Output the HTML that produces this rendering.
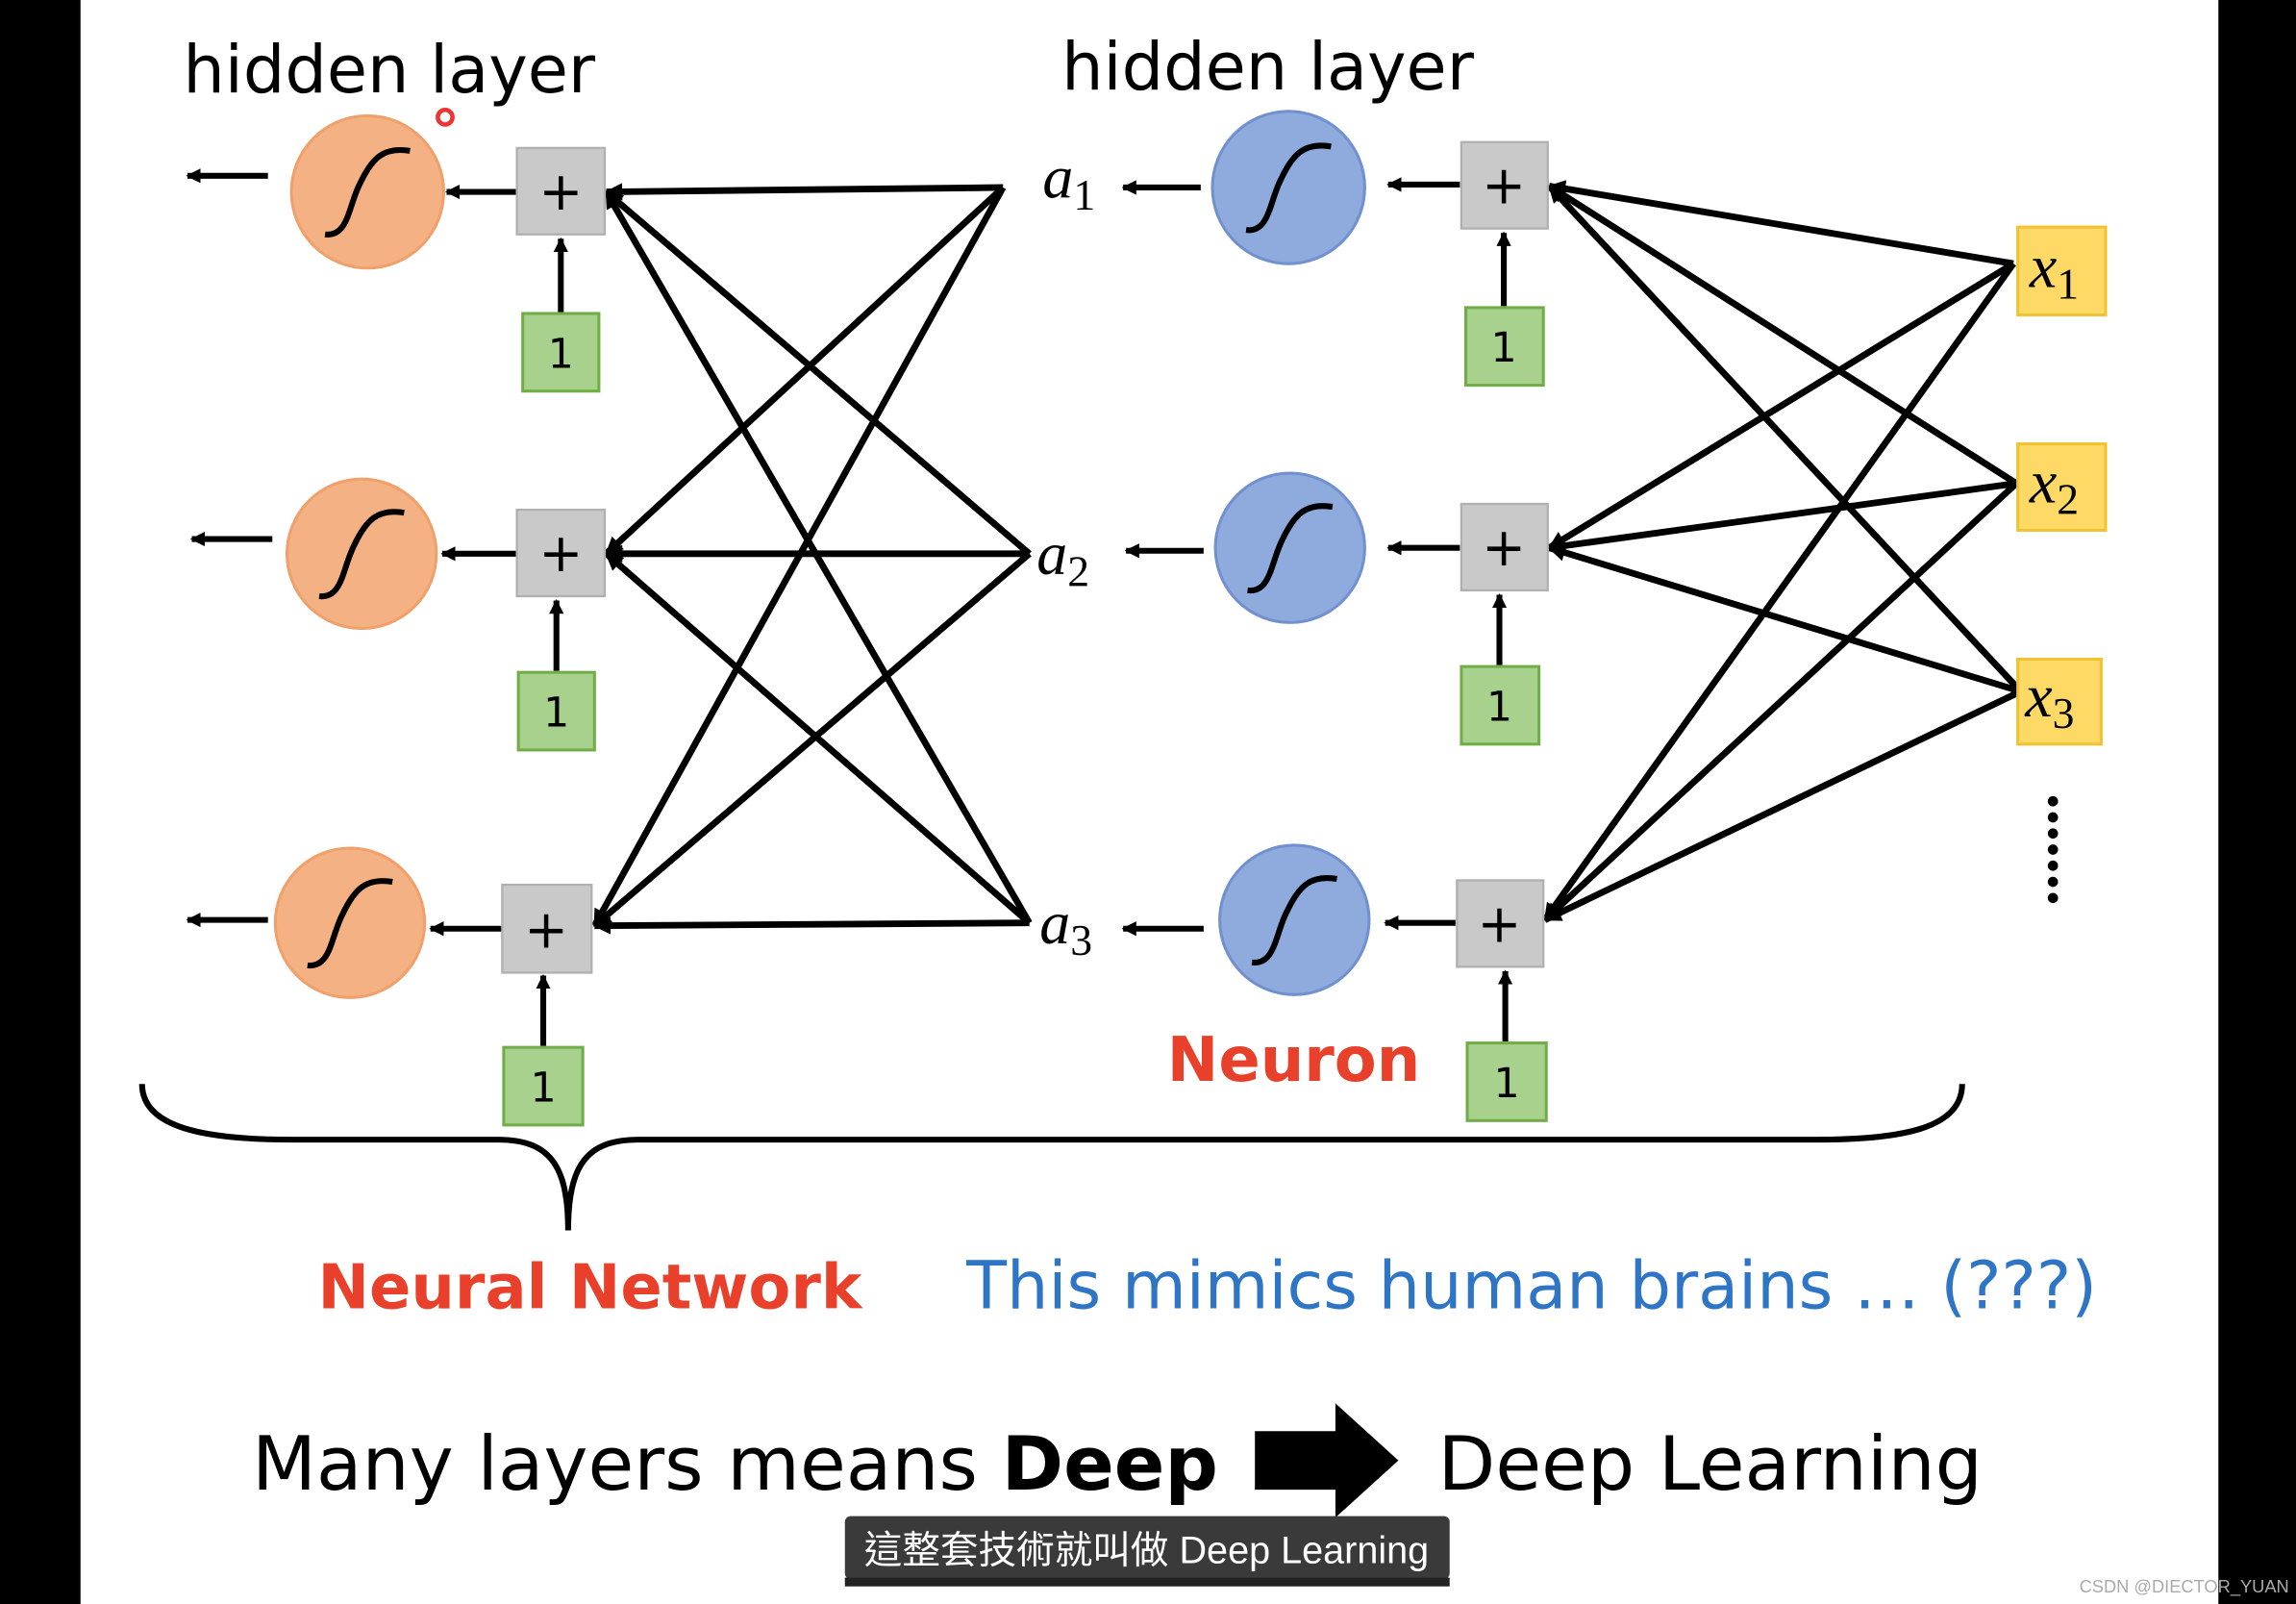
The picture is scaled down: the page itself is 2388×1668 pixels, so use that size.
<!DOCTYPE html>
<html><head><meta charset="utf-8"><style>
html,body{margin:0;padding:0;background:#000;}
svg{display:block;}
</style></head><body>
<svg width="2388" height="1668" viewBox="0 0 1568 1095" preserveAspectRatio="none" xmlns="http://www.w3.org/2000/svg">
<defs>
<marker id="ah" markerWidth="10" markerHeight="10" refX="9" refY="5" orient="auto" markerUnits="userSpaceOnUse">
<path d="M0,0 L10,5 L0,10 z" fill="#000"/></marker>
<marker id="ah3" markerWidth="12" markerHeight="12" refX="11" refY="6" orient="auto" markerUnits="userSpaceOnUse">
<path d="M0,0 L12,6 L0,12 z" fill="#000"/></marker>
</defs>
<rect x="0" y="0" width="1568" height="1095" fill="#000"/>
<rect x="55" y="0" width="1460" height="1095" fill="#fff"/>

<g font-family="'DejaVu Sans','Liberation Sans',sans-serif" fill="#000">
<text x="125" y="63" font-size="45">hidden layer</text>
<text x="725" y="61" font-size="45">hidden layer</text>
</g>
<circle cx="304" cy="80" r="5" fill="none" stroke="#e33" stroke-width="3"/>

<g stroke="#000" stroke-width="4.5" fill="none" marker-end="url(#ah3)">
<line x1="685" y1="128" x2="414" y2="131"/>
<line x1="685" y1="128" x2="414" y2="378"/>
<line x1="685" y1="128" x2="406" y2="632"/>
<line x1="703" y1="378" x2="414" y2="131"/>
<line x1="703" y1="378" x2="414" y2="378"/>
<line x1="703" y1="378" x2="406" y2="632"/>
<line x1="703" y1="630" x2="414" y2="131"/>
<line x1="703" y1="630" x2="414" y2="378"/>
<line x1="703" y1="630" x2="406" y2="632"/>
<line x1="1375" y1="180" x2="1058" y2="127"/>
<line x1="1375" y1="180" x2="1058" y2="374"/>
<line x1="1375" y1="180" x2="1055" y2="628"/>
<line x1="1377" y1="330" x2="1058" y2="127"/>
<line x1="1377" y1="330" x2="1058" y2="374"/>
<line x1="1377" y1="330" x2="1055" y2="628"/>
<line x1="1380" y1="472" x2="1058" y2="127"/>
<line x1="1380" y1="472" x2="1058" y2="374"/>
<line x1="1380" y1="472" x2="1055" y2="628"/>
</g>

<g stroke="#000" stroke-width="4" marker-end="url(#ah)">
<line x1="183" y1="120" x2="128" y2="120"/>
<line x1="186" y1="368" x2="131" y2="368"/>
<line x1="183" y1="628" x2="128" y2="628"/>
<line x1="353" y1="131" x2="305" y2="131"/>
<line x1="353" y1="378" x2="302" y2="378"/>
<line x1="343" y1="634" x2="294" y2="634"/>
<line x1="383" y1="213" x2="383" y2="163"/>
<line x1="380" y1="458" x2="380" y2="410"/>
<line x1="371" y1="714" x2="371" y2="666"/>
<line x1="820" y1="128" x2="767" y2="128"/>
<line x1="822" y1="376" x2="769" y2="376"/>
<line x1="822" y1="634" x2="767" y2="634"/>
<line x1="997" y1="126" x2="948" y2="126"/>
<line x1="997" y1="374" x2="948" y2="374"/>
<line x1="994" y1="630" x2="946" y2="630"/>
<line x1="1027" y1="209" x2="1027" y2="159"/>
<line x1="1024" y1="454" x2="1024" y2="406"/>
<line x1="1028" y1="711" x2="1028" y2="663"/>
</g>

<g fill="#f4b183" stroke="#f0a06a" stroke-width="2">
<circle cx="251" cy="131" r="52"/>
<circle cx="247" cy="378" r="51"/>
<circle cx="239" cy="630" r="51"/>
</g>
<g fill="#8faadc" stroke="#7190cf" stroke-width="2">
<circle cx="880" cy="128" r="52"/>
<circle cx="881" cy="374" r="51"/>
<circle cx="884" cy="628" r="51"/>
</g>
<g fill="none" stroke="#000" stroke-width="4">
<path d="M222,160 C238,162 238,140 246,125 C254,108 262,100 280,103" />
<path d="M218,407 C234,409 234,387 242,372 C250,355 258,347 276,350" />
<path d="M210,659 C226,661 226,639 234,624 C242,607 250,599 268,602" />
<path d="M851,157 C867,159 867,137 875,122 C883,105 891,97 909,100" />
<path d="M852,403 C868,405 868,383 876,368 C884,351 892,343 910,346" />
<path d="M855,657 C871,659 871,637 879,622 C887,605 895,597 913,600" />
</g>

<g fill="#c9c9c9" stroke="#b0b0b0" stroke-width="1.5">
<rect x="353" y="101" width="60" height="59"/>
<rect x="353" y="348" width="60" height="59"/>
<rect x="343" y="604" width="61" height="60"/>
<rect x="998" y="97" width="59" height="59"/>
<rect x="998" y="344" width="59" height="59"/>
<rect x="995" y="601" width="59" height="59"/>
</g>
<g font-family="'DejaVu Sans',sans-serif" font-size="36" text-anchor="middle" fill="#000">
<text x="383" y="143">+</text><text x="383" y="390">+</text><text x="373" y="647">+</text>
<text x="1027" y="139">+</text><text x="1027" y="386">+</text><text x="1024" y="643">+</text>
</g>
<g fill="#a9d18e" stroke="#70ad47" stroke-width="2">
<rect x="357" y="214" width="52" height="53"/>
<rect x="354" y="459" width="52" height="53"/>
<rect x="344" y="715" width="54" height="53"/>
<rect x="1001" y="210" width="53" height="53"/>
<rect x="998" y="455" width="53" height="53"/>
<rect x="1002" y="712" width="54" height="53"/>
</g>
<g font-family="'DejaVu Sans',sans-serif" font-size="28" text-anchor="middle" fill="#000">
<text x="383" y="251">1</text><text x="380" y="496">1</text><text x="371" y="752">1</text>
<text x="1027" y="247">1</text><text x="1024" y="492">1</text><text x="1029" y="749">1</text>
</g>
<g fill="#ffd966" stroke="#f2c230" stroke-width="2">
<rect x="1378" y="155" width="60" height="60"/>
<rect x="1378" y="303" width="60" height="59"/>
<rect x="1378" y="450" width="57" height="58"/>
</g>
<g font-family="'Liberation Serif',serif" font-style="italic" fill="#000">
<text x="1386" y="196" font-size="42">x<tspan font-style="normal" font-size="30" dy="8">1</tspan></text>
<text x="1386" y="343" font-size="42">x<tspan font-style="normal" font-size="30" dy="8">2</tspan></text>
<text x="1383" y="489" font-size="42">x<tspan font-style="normal" font-size="30" dy="8">3</tspan></text>
<text x="712" y="135" font-size="42">a<tspan font-style="normal" font-size="30" dy="8">1</tspan></text>
<text x="708" y="392" font-size="42">a<tspan font-style="normal" font-size="30" dy="8">2</tspan></text>
<text x="710" y="644" font-size="42">a<tspan font-style="normal" font-size="30" dy="8">3</tspan></text>
</g>
<g fill="#000">
<circle cx="1402" cy="547" r="3.5"/><circle cx="1402" cy="558" r="3.5"/><circle cx="1402" cy="569" r="3.5"/>
<circle cx="1402" cy="580" r="3.5"/><circle cx="1402" cy="591" r="3.5"/><circle cx="1402" cy="602" r="3.5"/><circle cx="1402" cy="613" r="3.5"/>
</g>

<text x="797" y="738" font-family="'DejaVu Sans',sans-serif" font-weight="bold" font-size="42" fill="#e8402b">Neuron</text>

<path d="M97,740 C97,770 140,778 200,778 L340,778 C375,778 388,795 388,840 C388,795 401,778 436,778 L1240,778 C1300,778 1340,770 1340,740" fill="none" stroke="#000" stroke-width="4"/>

<text x="217" y="893" font-family="'DejaVu Sans',sans-serif" font-weight="bold" font-size="42" fill="#e8402b">Neural Network</text>
<text x="660" y="893" font-family="'DejaVu Sans',sans-serif" font-size="45" fill="#2e75c6">This mimics human brains … (???)</text>

<text x="172" y="1017" font-family="'DejaVu Sans',sans-serif" font-size="51" fill="#000">Many layers means <tspan font-weight="bold">Deep</tspan></text>
<path d="M857,977 L912,977 L912,958 L955,997 L912,1036 L912,1017 L857,1017 z" fill="#000"/>
<text x="982" y="1017" font-family="'DejaVu Sans',sans-serif" font-size="51" fill="#000">Deep Learning</text>

<rect x="577" y="1035" width="413" height="43" rx="4" fill="#3a3a3a"/>
<rect x="577" y="1077" width="413" height="6" fill="#222"/>
<text x="783" y="1067" text-anchor="middle" font-family="'Liberation Sans','Noto Sans CJK TC',sans-serif" font-size="26" fill="#fff">這整套技術就叫做 Deep Learning</text>
<text x="1420" y="1087" font-family="'Liberation Sans',sans-serif" font-size="12" fill="#aaa">CSDN @DIECTOR_YUAN</text>
</svg>
</body></html>
